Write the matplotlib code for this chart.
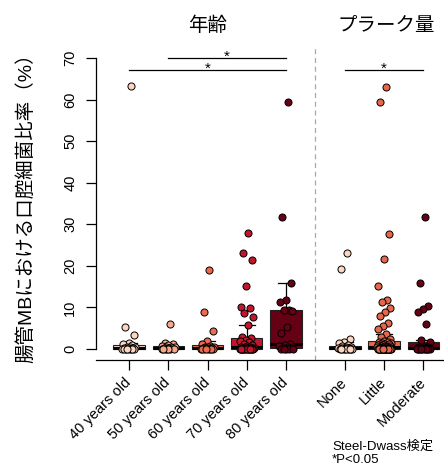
import numpy as np
import matplotlib
matplotlib.use('Agg')
import matplotlib.pyplot as plt
import matplotlib.transforms as mtransforms

plt.rcParams['font.family'] = ['Liberation Sans', 'Noto Sans CJK JP']

# group labels
age_labels = ['40 years old', '50 years old', '60 years old', '70 years old', '80 years old']
plaque_labels = ['None', 'Little', 'Moderate']

# oral bacteria ratio in gut MB (%)
age40 = [63.2, 5.4, 3.4, 1.5, 1.2, 0.9, 0.6, 0.5, 0.4, 0.3, 0.2, 0.2, 0.1, 0.1, 0.05,
         0, 0, 0, 0, 0]
age50 = [6.0, 1.4, 1.2, 1.0, 0.8, 0.6, 0.5, 0.4, 0.3, 0.2, 0.2, 0.1, 0.1, 0.05,
         0, 0, 0, 0]
age60 = [19.1, 8.9, 4.4, 1.9, 1.1, 0.8, 0.6, 0.5, 0.4, 0.3, 0.2, 0.2, 0.1, 0.1, 0.05,
         0, 0, 0, 0, 0]
age70 = [28.0, 23.0, 21.5, 15.1, 10.0, 9.8, 8.6, 7.6, 5.7, 3.0,
         2.6, 2.2, 1.9, 1.6, 1.3, 1.0, 0.8, 0.6, 0.5, 0.4,
         0.35, 0.3, 0.25, 0.2, 0.15, 0.1, 0.1, 0.05, 0.05,
         0, 0, 0, 0, 0, 0, 0, 0, 0, 0, 0]
age80 = [59.5, 31.7, 15.8, 11.8, 11.4, 9.5, 9.4, 9.2, 5.3, 3.8, 1.1, 0.9, 0.7,
         0.5, 0.3, 0.2, 0.1, 0, 0, 0, 0]

plaque_none = [23.0, 19.2, 2.3, 1.8, 1.4, 1.0, 0.7, 0.5,
               0.4, 0.35, 0.3, 0.25, 0.2, 0.2, 0.15, 0.1, 0.1, 0.05, 0.05,
               0, 0, 0, 0, 0]
plaque_little = [63.0, 59.5, 27.6, 21.6, 15.1, 11.8, 11.4, 9.9, 9.0, 7.9, 6.2, 5.5,
                 4.8, 3.6, 2.9, 2.3, 2.0,
                 1.7, 1.6, 1.5, 1.4, 1.3, 1.2, 1.1, 1.0, 0.9, 0.8,
                 0.8, 0.7, 0.6, 0.6, 0.5, 0.5, 0.4, 0.4, 0.35, 0.3,
                 0.3, 0.25, 0.2, 0.2, 0.2, 0.15, 0.15, 0.1, 0.1, 0.1,
                 0.08, 0.05, 0.05, 0.05, 0.03, 0.02, 0.01,
                 0, 0, 0, 0, 0, 0, 0, 0, 0, 0, 0, 0, 0]
plaque_moderate = [31.7, 15.9, 10.3, 9.6, 9.0, 5.9, 2.1, 1.6,
                   0.6, 0.5, 0.4, 0.35, 0.3, 0.25, 0.2, 0.2, 0.15, 0.1,
                   0.1, 0.05, 0.05, 0, 0, 0, 0, 0, 0, 0]

age_colors = ['#fdd5c0', '#f9a98b', '#ee6a4e', '#c3152b', '#650015']
plaque_colors = ['#fdd5c0', '#e6674b', '#650015']

# Steel-Dwass significant pairs (group index a, group index b, bar height)
sig_pairs = [(1, 4, 70), (0, 4, 67), (5, 7, 67)]

groups = [age40, age50, age60, age70, age80, plaque_none, plaque_little, plaque_moderate]
labels = age_labels + plaque_labels
colors = age_colors + plaque_colors
pos = [1, 2, 3, 4, 5, 6.5, 7.5, 8.5]

fig = plt.figure(figsize=(4.44, 4.68), dpi=100)
ax = fig.add_axes([96 / 444, 1 - 360 / 468, 347 / 444, 320 / 468])

bp = ax.boxplot(groups, positions=pos, widths=0.8, patch_artist=True, showfliers=False,
                whis=1.5, capwidths=0.4,
                medianprops=dict(color='black', lw=2.2),
                boxprops=dict(edgecolor='#222222', lw=0.8),
                whiskerprops=dict(color='black', lw=0.9),
                capprops=dict(color='black', lw=0.9))
for patch, c in zip(bp['boxes'], colors):
    patch.set_facecolor(c)

# jittered points (golden ratio offsets)
for p, vals, c in zip(pos, groups, colors):
    n = len(vals)
    off = (((np.arange(n) + 1) * 0.618034) % 1 - 0.5) * 0.36
    ax.scatter(p + off, vals, s=26, color=c, edgecolors='black', linewidths=0.7, zorder=3)

ax.set_xlim(1 - 33 / 39.25, 1 + 314 / 39.25)
ax.set_ylim(-11 / 4.157, 309 / 4.157)

ax.spines['top'].set_visible(False)
ax.spines['right'].set_visible(False)
ax.spines['left'].set_bounds(0, 70)
ax.spines['left'].set_linewidth(0.9)
ax.spines['bottom'].set_linewidth(0.9)

ax.set_yticks(range(0, 71, 10))
ax.tick_params(axis='y', labelsize=10.5, length=7.5, width=0.9, pad=6, labelrotation=90)
for t in ax.get_yticklabels():
    t.set_va('center')
ax.set_xticks(pos)
ax.set_xticklabels(labels, rotation=45, ha='right', va='center', rotation_mode='anchor')
ax.tick_params(axis='x', labelsize=10.5, length=7.5, width=0.9, pad=7)

ax.set_ylabel('腸管MBにおける口腔細菌比率（%）', fontsize=14)
ax.yaxis.set_label_coords(-0.176, 0.49)

# separator between age and plaque
ax.plot([5.75, 5.75], [ax.get_ylim()[0], 72.6], ls=(0, (4, 3)), color='#aaaaaa',
        lw=0.9, clip_on=False)

for a, b, h in sig_pairs:
    ax.plot([pos[a], pos[b]], [h, h], color='black', lw=0.9, clip_on=False)
    ax.text((pos[a] + pos[b]) / 2, h + 0.3, '*', ha='center', va='center', fontsize=11)

trans = mtransforms.blended_transform_factory(ax.transData, fig.transFigure)
ax.text(3, 1 - 26 / 468, '年齢', transform=trans, ha='center', va='center', fontsize=14)
ax.text(7.55, 1 - 26 / 468, 'プラーク量', transform=trans, ha='center', va='center', fontsize=14)

fig.text(332 / 444, 1 - 447 / 468, 'Steel-Dwass検定', ha='left', va='center', fontsize=9.5)
fig.text(332 / 444, 1 - 460 / 468, '*P<0.05', ha='left', va='center', fontsize=9.5)

fig.savefig('out.png', dpi=100)
